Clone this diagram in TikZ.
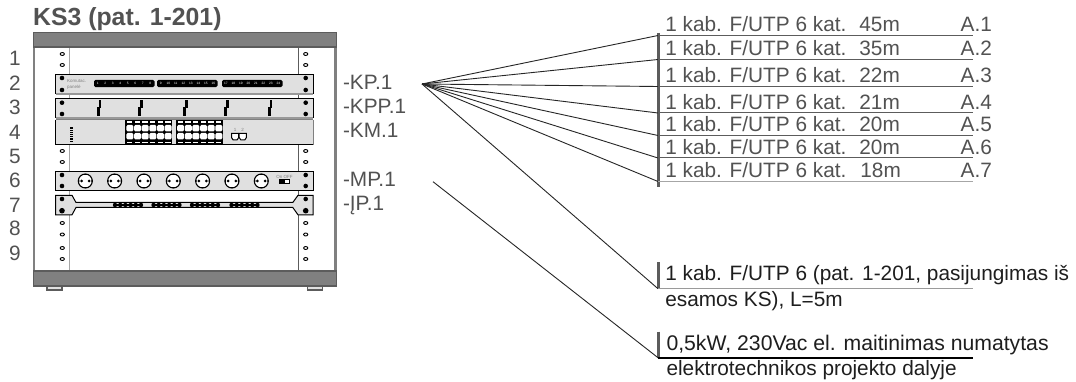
\documentclass[tikz,border=0pt]{standalone}
\usepackage{fontspec}
\setmainfont{Liberation Sans}
\definecolor{txt}{HTML}{525252}
\definecolor{darktxt}{HTML}{1E1E1E}
\definecolor{wall}{HTML}{808080}
\definecolor{frame}{HTML}{5C5C5C}
\definecolor{panelfill}{HTML}{E0E0E0}
\tikzset{
  lab/.style={anchor=base west,inner sep=0pt,outer sep=0pt,text=txt,font=\fontsize{20.8}{24}\selectfont},
  numlab/.style={anchor=base,inner sep=0pt,outer sep=0pt,text=txt,font=\fontsize{20.8}{24}\selectfont},
  darklab/.style={lab,text=darktxt},
  titlelab/.style={anchor=base west,inner sep=0pt,text=txt,font=\fontsize{24.8}{28}\selectfont\bfseries},
  tiny/.style={inner sep=0pt,text=gray,font=\fontsize{4.5}{5}\selectfont},
  portnum/.style={inner sep=0pt,text=white,font=\fontsize{3.2}{4}\selectfont},
  panel/.style={fill=panelfill,draw=black,line width=1pt},
  under/.style={draw=wall!80!white,line width=1.4pt},
  holeo/.style={draw=black,fill=white,line width=0.9pt},
  fan/.style={draw=black!85,line width=0.9pt},
  rowline/.style={draw=frame,line width=1pt},
  bar/.style={draw=frame,line width=3pt}
}
\newcommand{\holepair}[1]{%
  \foreach \hx in {62,305.7}{\fill[black] (\hx,#1) circle (2.3pt);}}
\begin{document}
\begin{tikzpicture}[x=1pt,y=-1pt]
\useasboundingbox (0,0) rectangle (1076,382);
\fill[white] (0,0) rectangle (1076,382);
% rack
\node[titlelab] (title) at (33,26) {KS3 (pat. 1-201)};
\draw[wall,line width=2pt] (34,40) -- (34,280);
\draw[wall,line width=2.4pt] (335.5,40) -- (335.5,280);
\draw[wall!70!white,line width=1.4pt] (69.5,47) -- (69.5,271);
\draw[frame,line width=0.9pt] (298.3,47) -- (298.3,271);
\draw[frame,fill=wall,line width=1.4pt] (33.5,32.5) rectangle (336.5,47);
\draw[frame,fill=wall,line width=1.4pt] (33.5,271) rectangle (336.5,286);
\draw[frame,fill=panelfill,line width=1.2pt] (47,286) rectangle (62,290);
\draw[frame,fill=panelfill,line width=1.2pt] (307.5,286) rectangle (322.5,290);
% free holes
\foreach \hy in {54,65,151,162,223,234.5,248,259}{
  \foreach \hx in {62.3,305.7}{
    \draw[holeo] (\hx,\hy) ellipse (2.1pt and 1.5pt);
  }
}
% rack numbers
\foreach \t/\ny in {1/66,2/91,3/115,4/139.5,5/164,6/187.5,7/212,8/236,9/260}{
  \node[numlab] (n\t) at (15,\ny) {\t};
}
% KP
\draw[panel] (55.5,74.8) rectangle (313,93.5);
\draw[under] (55.5,94) -- (313,94);
\holepair{78}\holepair{90}
\node[tiny,anchor=west] (kpa) at (67,80.5) {Komutac.};
\node[tiny,anchor=west] (kpb) at (67,87.5) {panelė};
\foreach \bx/\first in {94/1,157/9,222/17}{
  \fill[black,rounded corners=1.5pt] (\bx,79.8) rectangle ++(60.5,7.4);
  \foreach \k [evaluate=\k as \px using \bx+3.8+7.5*\k, evaluate=\k as \pn using int(\first+\k)] in {0,...,7}{
    \node[portnum] at (\px,83.2) {\pn};
  }
}
% KPP
\draw[panel] (55.5,98.8) rectangle (313,117.5);
\draw[under] (55.5,118) -- (313,118);
\holepair{102.7}\holepair{114}
\foreach \sx in {99,140.5,185.5,226.5,270}{
  \draw[black,line width=2.8pt] (\sx+1,100.5) -- (\sx+1,108.5);
  \draw[black,line width=2.8pt] (\sx-0.8,107.5) -- (\sx-0.8,116);
}
% KM
\draw[panelfill,fill=panelfill] (55.5,120) rectangle (313,144.5);
\draw[wall,line width=1pt] (55.5,120) -- (313,120);
\draw[black,line width=1pt] (55.5,120) -- (55.5,145) -- (313,145);
\draw[wall,line width=1pt] (313,120) -- (313,145);
\foreach \dy in {127.5,129.7,...,141}{
  \fill[black] (70,\dy) rectangle ++(3.4,1.2);
}
\foreach \bx in {125.3,176}{
  \fill[black] (\bx,120.5) rectangle ++(47,24);
  \foreach \k [evaluate=\k as \px using \bx+1+7.65*\k] in {0,...,5}{
    \fill[white] (\px+0.8,121.2) rectangle ++(5.2,1.6);
    \fill[white] (\px+0.8,141.8) rectangle ++(5.2,1.6);
    \foreach \py in {125,133}{
      \fill[white] (\px+1.3,\py) -- ++(4.6,0) -- ++(1.2,1.5) -- ++(0,3.4) -- ++(-1.2,1.5) -- ++(-4.6,0) -- ++(-1.2,-1.5) -- ++(0,-3.4) -- cycle;
    }
  }
}
\node[tiny,text=gray] (sfp1) at (235,130) {1};
\node[tiny,text=gray] (sfp2) at (242.5,130) {2};
\foreach \bx in {231.5,239.2}{
  \draw[black,line width=1pt,fill=white] (\bx,133.5) -- ++(7.2,0) -- ++(0,4) -- ++(-1.6,2.4) -- ++(-4,0) -- ++(-1.6,-2.4) -- cycle;
}
% MP
\draw[panel] (55.5,171.3) rectangle (313,190.3);
\holepair{175}\holepair{186}
\foreach \k [evaluate=\k as \sx using 85.3+29.33*\k] in {0,...,6}{
  \draw[black,fill=white,line width=1.1pt] (\sx,181) circle (7pt);
  \fill[black] (\sx-3.8,181) circle (1.5pt) (\sx+3.8,181) circle (1.5pt);
  \draw[black,line width=1.5pt] (\sx-2.2,174.6) -- (\sx+2.2,174.6) (\sx-2.2,187.4) -- (\sx+2.2,187.4);
  \fill[black] (\sx-7.2,180) rectangle (\sx-6,182) (\sx+6,180) rectangle (\sx+7.2,182);
}
\fill[black] (278.5,179) rectangle (290,183.6);
\fill[white] (285,180) rectangle (288.8,182.6);
\node[tiny,text=gray] (sw) at (284.5,177) {On OFF};
% IP
\draw[panel] (55.5,195.3) -- (72,195.3) -- (76,202.5) -- (292.8,202.5) -- (298,195.3) -- (313,195.3)
  -- (313,214.8) -- (298,214.8) -- (292.8,207.5) -- (76,207.5) -- (72,214.8) -- (55.5,214.8) -- cycle;
\fill[black] (62,199) circle (2.3pt) (62,210.7) circle (2.8pt) (305.7,199) circle (2.3pt) (305.7,210.7) circle (2.8pt);
\foreach \bx in {115,153.5,192,231.5}{
  \fill[black] (\bx-1.5,204.2) rectangle ++(28,1.6);
  \foreach \k in {0,...,5}{
    \fill[black] (\bx+5.2*\k,205) circle (2.2pt);
  }
}
% device labels
\node[lab] (kp) at (343,90) {-KP.1};
\node[lab] (kpp) at (343,114) {-KPP.1};
\node[lab] (km) at (343,138) {-KM.1};
\node[lab] (mp) at (343,187) {-MP.1};
\node[lab] (ip) at (343,211) {-ĮP.1};
% fan
\coordinate (apex) at (422,84);
\coordinate (mpstart) at (433,181.7);
\draw[bar] (658.3,33) -- (658.3,187);
\foreach \i/\ly/\by/\len/\gap in {1/35.5/31.8/45/13,2/59.5/55.2/35/13,3/86.5/82.8/22/13,4/113/109.2/21/13,5/135.5/131.8/20/13,6/158/154.2/20/13,7/181.5/177.5/18/14}{
  \coordinate (e\i) at (658,\ly);
  \coordinate (f\i) at (973,\ly);
  \draw[fan] (apex) -- (e\i);
  \draw[rowline] (e\i) -- (f\i);
  \node[lab] (r\i) at (665.3,\by) {1 kab. F/UTP 6 kat.\hspace{\gap pt}\len m};
  \node[lab] (a\i) at (960.7,\by) {A.\i};
}
\draw[wall!70!white,line width=1.6pt] (e7) -- (f7);
% lower rows
\draw[bar] (658.3,262) -- (658.3,289);
\coordinate (e8) at (658,288.7);
\coordinate (f8) at (973,288.7);
\draw[fan] (apex) -- (e8);
\draw[wall!80!white,line width=1.4pt] (e8) -- (f8);
\node[darklab] (t8a) at (665.3,280.8) {1 kab. F/UTP 6 (pat. 1-201, pasijungimas iš};
\node[darklab] (t8b) at (665.3,306.8) {esamos KS), L=5m};
\draw[bar] (658.3,331.7) -- (658.3,358);
\coordinate (e9) at (658,357.7);
\coordinate (f9) at (973,357.7);
\draw[fan] (mpstart) -- (e9);
\draw[black,line width=1.8pt] (e9) -- (f9);
\node[darklab,font=\fontsize{21.2}{24}\selectfont] (t9a) at (666.5,350.5) {0,5kW, 230Vac el. maitinimas numatytas};
\node[darklab] (t9b) at (666.5,375.3) {elektrotechnikos projekto dalyje};
\end{tikzpicture}
\end{document}
